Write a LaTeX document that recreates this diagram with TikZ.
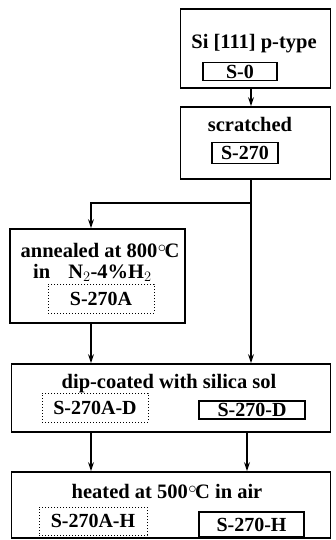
\documentclass[tikz,border=0pt]{standalone}
\usepackage{fontspec}
\setmainfont{Liberation Serif}
\usetikzlibrary{arrows.meta}
\newcommand{\degC}{\kern0.5pt\raisebox{0.5ex}{\scalebox{0.8}{$\circ$}}\kern-1.5pt C}
\begin{document}
\begin{tikzpicture}[x=1pt,y=-1pt,
  outer/.style={draw,line width=1.8pt,rectangle,inner sep=0pt},
  inbox/.style={draw,line width=1.1pt,rectangle,inner sep=0pt,font=\fontsize{20}{22}\selectfont\bfseries},
  dotbox/.style={draw,line width=1pt,dotted,rectangle,inner sep=0pt,font=\fontsize{20}{22}\selectfont\bfseries},
  lbl/.style={inner sep=0pt,font=\fontsize{20.5}{22}\selectfont\bfseries},
  arr/.style={line width=1.5pt,-{Stealth[length=9pt,width=6pt]}},
  ln/.style={line width=1.5pt}]
\useasboundingbox (0,0) rectangle (335,540);
% outer boxes
\node[outer,minimum width=150pt,minimum height=79pt] (b1) at (255.5,48.5) {};
\node[outer,minimum width=150pt,minimum height=72pt] (b2) at (255.5,143) {};
\node[outer,minimum width=175pt,minimum height=94pt] (b3) at (97.5,276) {};
\node[outer,minimum width=319pt,minimum height=68pt] (b4) at (171,398) {};
\node[outer,minimum width=319pt,minimum height=66pt] (b5) at (171,505) {};
% box 1
\node[lbl] (t1) at (254,44) {Si [111] p-type};
\node[inbox,minimum width=74pt,minimum height=18pt] (s0) at (240,71.5) {S-0};
% box 2
\node[lbl] (t2) at (250,124) {scratched};
\node[inbox,minimum width=66pt,minimum height=21pt] (s270) at (245,153) {S-270};
% box 3
\node[lbl] (t3a) at (100,250) {annealed at 800\degC};
\node[lbl,anchor=base west] (t3b) at (33,278) {in\hspace{18pt}N$_2$-4\%H$_2$};
\node[dotbox,minimum width=106pt,minimum height=29pt] (s270a) at (101,298.5) {S-270A};
% box 4
\node[lbl] (t4) at (169,384) {dip-coated with silica sol};
\node[dotbox,minimum width=106pt,minimum height=29pt] (s270ad) at (95,407.5) {S-270A-D};
\node[inbox,minimum width=106pt,minimum height=18pt] (s270d) at (252,410) {S-270-D};
% box 5
\node[lbl] (t5) at (167,491) {heated at 500\degC\ in air};
\node[dotbox,minimum width=108pt,minimum height=28pt] (s270ah) at (93,521) {S-270A-H};
\node[inbox,minimum width=105pt,minimum height=25pt] (s270h) at (251.5,524.5) {S-270-H};
% columns
\coordinate (cR) at (251,0);
\coordinate (cL) at (91,0);
\coordinate (j) at (251,203);
% connectors
\draw[arr] (b1.south -| cR) -- (b2.north -| cR);
\draw[arr] (b2.south -| cR) -- (b4.north -| cR);
\draw[arr] (j) -| (b3.north -| cL);
\draw[arr] (b3.south -| cL) -- (b4.north -| cL);
\draw[arr] (b4.south -| cL) -- (b5.north -| cL);
\coordinate (cR2) at (247,0);
\draw[arr] (b4.south -| cR2) -- (b5.north -| cR2);
\end{tikzpicture}
\end{document}
